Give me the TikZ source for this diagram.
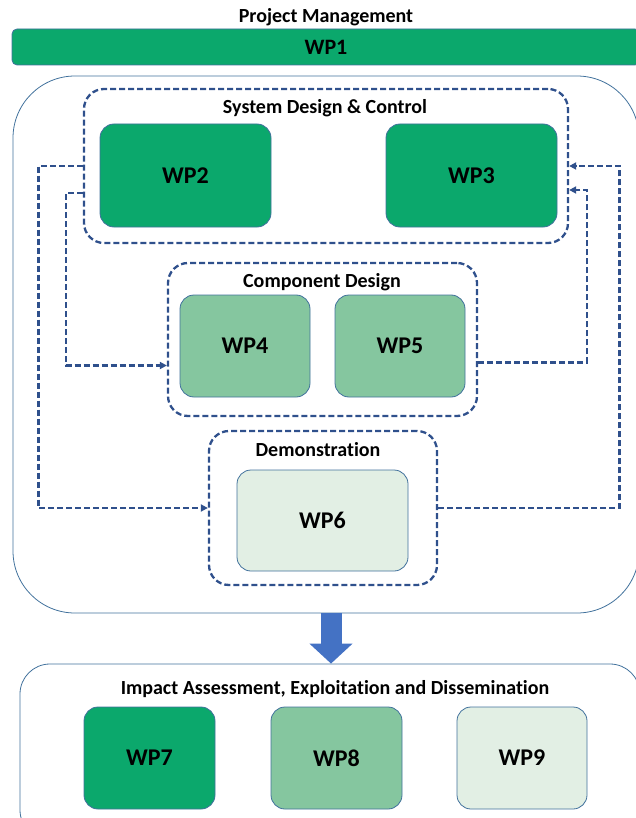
\documentclass[tikz,border=0pt]{standalone}
\usepackage{fontspec}
\setmainfont[Ligatures=NoCommon]{Carlito}
\usetikzlibrary{arrows.meta}
\definecolor{darkg}{RGB}{11,168,108}
\definecolor{midg}{RGB}{133,198,159}
\definecolor{lightg}{RGB}{226,239,228}
\definecolor{bordc}{RGB}{65,113,156}
\definecolor{dashc}{RGB}{47,80,140}
\definecolor{bigar}{RGB}{68,114,196}
\begin{document}
\begin{tikzpicture}[x=1pt,y=-1pt,
 wp/.style={draw=bordc, line width=0.8pt, rounded corners=14pt, font=\bfseries\fontsize{24}{28}\selectfont, inner sep=0pt},
 grp/.style={draw=dashc, line width=2.3pt, dash pattern=on 6pt off 3pt, rounded corners=20pt, inner sep=0pt},
 ttl/.style={font=\bfseries\fontsize{20}{24}\selectfont, inner sep=0pt},
 conn/.style={draw=dashc, line width=2.3pt, dash pattern=on 6pt off 3pt, -{Triangle[length=7pt,width=7pt]}},
 bigarrow/.style={draw=bigar, line width=21pt, -{Triangle[length=20pt,width=42pt]}},
]
\useasboundingbox (0,0) rectangle (636,818);
% top
\node[ttl] (pmt) at (326,17) {Project Management};
\node[wp, fill=darkg, rounded corners=5pt, minimum width=628pt, minimum height=36pt, font=\bfseries\fontsize{22}{26}\selectfont] (wp1) at (326,47) {WP1};
% outer container
\node[draw=bordc, line width=0.8pt, rounded corners=62pt, minimum width=626pt, minimum height=537pt, inner sep=0pt] (outer) at (326,344.5) {};
% system design
\node[grp, minimum width=484pt, minimum height=154pt] (sdc) at (326,166) {};
\node[ttl] (sdct) at (325,108) {System Design \& Control};
\node[wp, fill=darkg, minimum width=171pt, minimum height=103pt] (wp2) at (185.5,175.5) {WP2};
\node[wp, fill=darkg, minimum width=171pt, minimum height=103pt] (wp3) at (471.5,175.5) {WP3};
% component design
\node[grp, minimum width=309pt, minimum height=153pt] (comp) at (322.5,339.5) {};
\node[ttl] (compt) at (322,282) {Component Design};
\node[wp, fill=midg, minimum width=130pt, minimum height=102pt] (wp4) at (245,346) {WP4};
\node[wp, fill=midg, minimum width=130pt, minimum height=102pt] (wp5) at (400,346) {WP5};
% demonstration
\node[grp, minimum width=228pt, minimum height=154pt] (demo) at (323,508) {};
\node[ttl] (demot) at (318,450) {Demonstration};
\node[wp, fill=lightg, minimum width=171pt, minimum height=101pt] (wp6) at (322.5,520.5) {WP6};
% connectors
\coordinate (lo) at (38.5,0);
\coordinate (li) at (66,0);
\coordinate (ro) at (619.5,0);
\coordinate (ri) at (587,0);
\coordinate (sdcli) at ([yshift=-27pt]sdc.west);
\coordinate (compin) at ([yshift=-26pt]comp.west);
\coordinate (compout) at ([yshift=-23pt]comp.east);
\coordinate (sdcri) at ([yshift=-24pt]sdc.east);
\draw[conn] (sdc.west) -| (lo |- demo.west) -- (demo.west);
\draw[conn] (sdcli) -| (li |- compin) -- (compin);
\draw[conn] (demo.east) -| (ro |- sdc.east) -- (sdc.east);
\draw[conn] (compout) -| (ri |- sdcri) -- (sdcri);
% bottom
\node[draw=bordc, line width=0.8pt, rounded corners=30pt, minimum width=620pt, minimum height=176pt, inner sep=0pt] (imp) at (330,752) {};
\node[ttl] (impt) at (335,689) {Impact Assessment, Exploitation and Dissemination};
\node[wp, fill=darkg, minimum width=131pt, minimum height=102pt] (wp7) at (149.5,758) {WP7};
\node[wp, fill=midg, minimum width=131pt, minimum height=102pt] (wp8) at (336.5,758) {WP8};
\node[wp, fill=lightg, minimum width=130pt, minimum height=102pt] (wp9) at (522,758) {WP9};
\coordinate (arx) at (331,0);
\draw[bigarrow] (arx |- outer.south) -- (arx |- imp.north);
\end{tikzpicture}
\end{document}
